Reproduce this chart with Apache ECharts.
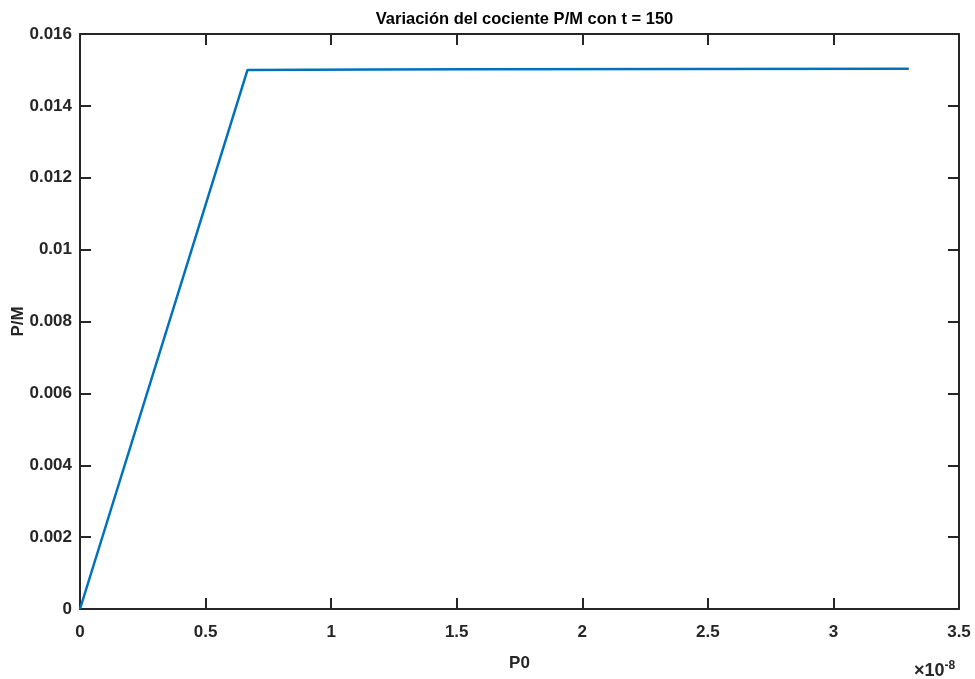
<!DOCTYPE html>
<html>
<head>
<meta charset="utf-8">
<script src="https://cdn.jsdelivr.net/npm/echarts@6/dist/echarts.min.js"></script>
<style>
  html, body { margin: 0; padding: 0; background: #fff; }
  #chart { width: 975px; height: 679px; }
</style>
</head>
<body>
<div id="chart"></div>
<script>
// P0 values (in units of 1e-8) and the resulting P/M ratio at t = 150
const p0 = [0, 0.667, 1.167, 1.567, 3.3];
const pm = [0, 0.01500, 0.01501, 0.01502, 0.01503];

const xTicks = { min: 0, max: 3.5, interval: 0.5 };
const yTicks = { min: 0, max: 0.016, interval: 0.002 };

const FONT = "'Liberation Sans', Arial, sans-serif";
const AXIS_COLOR = '#262626';

const chart = echarts.init(document.getElementById('chart'), null, { renderer: 'canvas' });

const baseAxis = {
  axisLine: { show: true, onZero: false, lineStyle: { color: AXIS_COLOR, width: 2 } },
  axisTick: { show: true, inside: true, length: 11, lineStyle: { color: AXIS_COLOR, width: 2 } },
  splitLine: { show: false }
};

chart.setOption({
  backgroundColor: '#ffffff',
  animation: false,
  title: {
    text: 'Variación del cociente P/M con t = 150',
    left: 519.5,
    textAlign: 'center',
    top: 6,
    textStyle: { fontFamily: FONT, fontSize: 16.5, fontWeight: 'bold', color: '#000' }
  },
  grid: { left: 80, right: 16, top: 34, bottom: 70, outerBoundsMode: 'none', containLabel: false },
  xAxis: [
    Object.assign({}, baseAxis, {
      type: 'value', position: 'bottom',
      min: xTicks.min, max: xTicks.max, interval: xTicks.interval,
      name: 'P0', nameLocation: 'middle', nameGap: 46,
      nameTextStyle: { fontFamily: FONT, fontSize: 17, fontWeight: 'bold', color: '#262626' },
      axisLabel: { margin: 15, fontFamily: FONT, fontSize: 17, fontWeight: 'bold', color: '#262626' }
    }),
    Object.assign({}, baseAxis, {
      type: 'value', position: 'top',
      min: xTicks.min, max: xTicks.max, interval: xTicks.interval,
      axisLabel: { show: false }
    })
  ],
  yAxis: [
    Object.assign({}, baseAxis, {
      type: 'value', position: 'left',
      min: yTicks.min, max: yTicks.max, interval: yTicks.interval,
      name: 'P/M', nameLocation: 'middle', nameGap: 53, nameRotate: 90,
      nameMoveOverlap: false,
      nameTextStyle: { fontFamily: FONT, fontSize: 17, fontWeight: 'bold', color: '#262626' },
      axisLabel: {
        margin: 8, fontFamily: FONT, fontSize: 17, fontWeight: 'bold', color: '#262626',
        formatter: v => (v === 0 ? '0' : String(+v.toFixed(3)))
      }
    }),
    Object.assign({}, baseAxis, {
      type: 'value', position: 'right',
      min: yTicks.min, max: yTicks.max, interval: yTicks.interval,
      axisLabel: { show: false }
    })
  ],
  graphic: [
    {
      type: 'text', left: 914, top: 660,
      style: {
        text: '×10{sup|-8}',
        rich: { sup: { fontSize: 12, fontFamily: FONT, fontWeight: 'bold', fill: '#262626', verticalAlign: 'top', padding: [0, 0, 10, 0] } },
        fontFamily: FONT, fontSize: 18, fontWeight: 'bold', fill: '#262626'
      }
    }
  ],
  series: [{
    type: 'line',
    xAxisIndex: 0, yAxisIndex: 0,
    data: p0.map((x, i) => [x, pm[i]]),
    showSymbol: false,
    lineStyle: { color: '#0072BD', width: 2.5 },
    z: 1
  }]
});
</script>
</body>
</html>
